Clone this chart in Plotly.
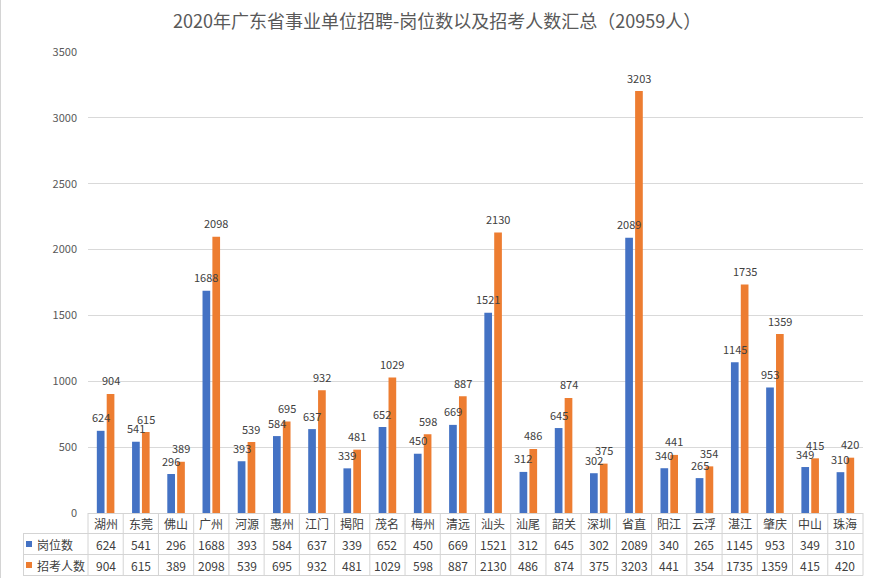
import plotly.graph_objects as go

categories = ["湖州", "东莞", "佛山", "广州", "河源", "惠州", "江门", "揭阳", "茂名", "梅州", "清远",
              "汕头", "汕尾", "韶关", "深圳", "省直", "阳江", "云浮", "湛江", "肇庆", "中山", "珠海"]
positions = [624, 541, 296, 1688, 393, 584, 637, 339, 652, 450, 669,
             1521, 312, 645, 302, 2089, 340, 265, 1145, 953, 349, 310]
applicants = [904, 615, 389, 2098, 539, 695, 932, 481, 1029, 598, 887,
              2130, 486, 874, 375, 3203, 441, 354, 1735, 1359, 415, 420]
series_names = ["岗位数", "招考人数"]
y_ticks = [0, 500, 1000, 1500, 2000, 2500, 3000, 3500]
title_text = "2020年广东省事业单位招聘-岗位数以及招考人数汇总（20959人）"

W, H = 876, 578
ML, MR, MT, MB = 88, 13, 52, 65
PW, PH = W - ML - MR, H - MT - MB
BLUE, ORANGE = "#4472C4", "#ED7D31"
GRID = "#D9D9D9"
LINE = "#D4D4D4"
TXT = "#404040"
FONT = "Noto Sans CJK SC, Microsoft YaHei, sans-serif"
BARGAP, GROUPGAP = 0.44, 0.22


def px_x(px):
    return (px - ML) / PW


def px_y(py):
    return (H - MB - py) / PH


n = len(categories)
cat_w = PW / n
slot = cat_w * (1 - BARGAP) / 2

fig = go.Figure()
for name, vals, col in [(series_names[0], positions, BLUE), (series_names[1], applicants, ORANGE)]:
    fig.add_trace(go.Bar(x=categories, y=vals, name=name, marker_color=col,
                         marker_line_width=0, hoverinfo="x+y"))

shapes = []
# horizontal table lines
row_lines = [(H - MB + 0.5, ML), (533.5, 23), (554.5, 23), (575.5, 23)]
for py, x0px in row_lines:
    shapes.append(dict(type="line", xref="paper", yref="paper",
                       x0=px_x(x0px), x1=1, y0=px_y(py), y1=px_y(py),
                       line=dict(color=LINE, width=1)))
# vertical table lines (category boundaries)
for i in range(n + 1):
    xf = i / n
    shapes.append(dict(type="line", xref="paper", yref="paper",
                       x0=xf, x1=xf, y0=px_y(H - MB), y1=px_y(575.5),
                       line=dict(color=LINE, width=1)))
shapes.append(dict(type="line", xref="paper", yref="paper",
                   x0=px_x(23.5), x1=px_x(23.5), y0=px_y(533.5), y1=px_y(575.5),
                   line=dict(color=LINE, width=1)))
# legend keys
for cy, col in [(544, BLUE), (565, ORANGE)]:
    shapes.append(dict(type="rect", xref="paper", yref="paper",
                       x0=px_x(26), x1=px_x(32), y0=px_y(cy - 3), y1=px_y(cy + 3),
                       fillcolor=col, line=dict(width=0)))
# outer border (left)
shapes.append(dict(type="line", xref="paper", yref="paper",
                   x0=px_x(0.5), x1=px_x(0.5), y0=px_y(0), y1=px_y(H),
                   line=dict(color=LINE, width=1)))

annotations = []
# data labels above bars
for vals, sgn in [(positions, -1), (applicants, 1)]:
    for c, v in zip(categories, vals):
        annotations.append(dict(x=c, y=v, xref="x", yref="y", text=str(v),
                                xanchor="center", yanchor="middle",
                                xshift=sgn * slot / 2, yshift=13.5, showarrow=False,
                                font=dict(size=11, color=TXT, family=FONT)))
# data table
for i, c in enumerate(categories):
    xc = (i + 0.5) / n
    for cy, txt in [(523.5, c), (544, str(positions[i])), (565, str(applicants[i]))]:
        annotations.append(dict(x=xc, y=px_y(cy), xref="paper", yref="paper", text=txt,
                                xanchor="center", yanchor="middle", showarrow=False,
                                font=dict(size=12, color=TXT, family=FONT)))
for cy, name in [(544, series_names[0]), (565, series_names[1])]:
    annotations.append(dict(x=px_x(35), y=px_y(cy), xref="paper", yref="paper", text=name,
                            xanchor="left", yanchor="middle", showarrow=False,
                            font=dict(size=12, color=TXT, family=FONT)))

fig.update_layout(
    width=W, height=H,
    margin=dict(l=ML, r=MR, t=MT, b=MB),
    paper_bgcolor="white", plot_bgcolor="white",
    title=dict(text=title_text, x=0.499, xanchor="center", y=1 - 22 / H, yanchor="middle",
               font=dict(size=18, color="#595959", family=FONT)),
    showlegend=False,
    barmode="group", bargap=BARGAP, bargroupgap=GROUPGAP,
    xaxis=dict(type="category", showticklabels=False, showgrid=False, showline=False,
               zeroline=False, ticks="", range=[-0.5, n - 0.5]),
    yaxis=dict(range=[0, 3500], tickvals=y_ticks, showgrid=True, gridcolor=GRID, gridwidth=1,
               zeroline=False, showline=False, ticks="", ticklabelstandoff=10,
               tickfont=dict(size=11, color="#595959", family=FONT)),
    shapes=shapes, annotations=annotations,
    font=dict(family=FONT),
)
fig.write_html("out.html", config={"displayModeBar": False},
               post_script="document.body.style.margin='0';")
